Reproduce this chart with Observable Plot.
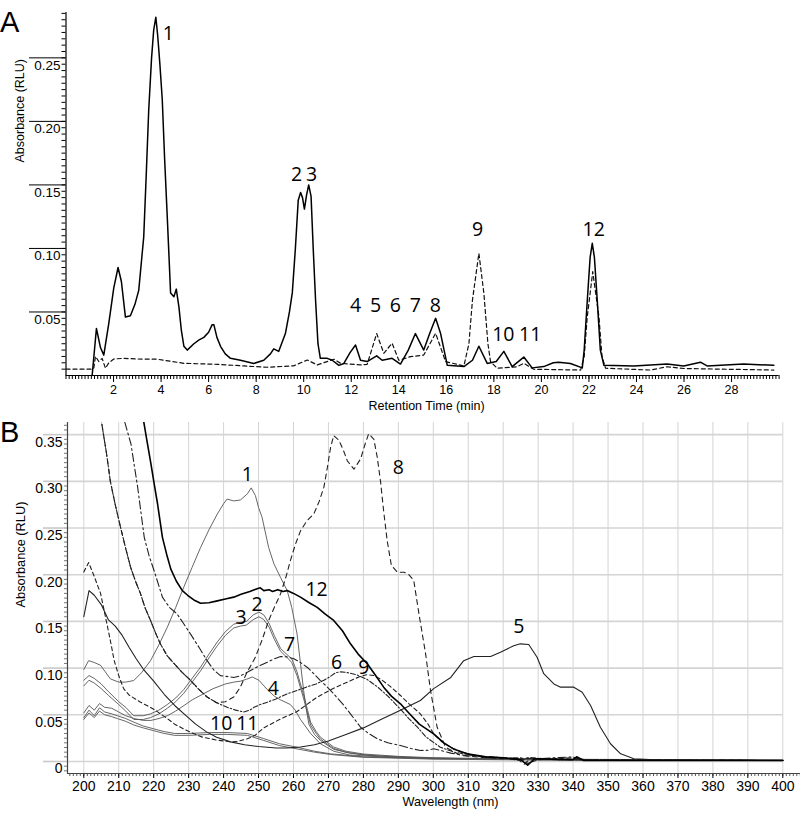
<!DOCTYPE html>
<html><head><meta charset="utf-8">
<script src="https://cdn.jsdelivr.net/npm/d3@7"></script>
<script src="https://cdn.jsdelivr.net/npm/@observablehq/plot@0.6"></script>
<style>
body{margin:0;background:#fff;}
#wrap{position:relative;width:800px;height:813px;overflow:hidden;background:#fff;}
#wrap svg{position:absolute;left:0;}
.letter{position:absolute;left:0;font-family:"Liberation Sans",Arial,sans-serif;font-size:29px;line-height:29px;color:#000;}
</style></head><body><div id="wrap"><div class="letter" style="top:8px">A</div><div class="letter" style="top:418px">B</div></div>
<script>
// ---------- Panel A: chromatogram (time min, absorbance) ----------
const chromSolid = [
[1.10,0.000],[1.28,0.037],[1.45,0.022],[1.59,0.016],[1.80,0.041],[2.01,0.069],[2.19,0.085],[2.33,0.074],[2.50,0.046],[2.71,0.047],
[2.90,0.056],[3.06,0.067],[3.20,0.095],[3.27,0.109],[3.38,0.160],[3.48,0.209],[3.60,0.250],[3.69,0.272],[3.78,0.282],[3.86,0.267],
[3.95,0.245],[4.05,0.217],[4.15,0.170],[4.26,0.125],[4.40,0.065],[4.54,0.062],[4.64,0.068],[4.75,0.054],[4.85,0.036],[4.96,0.023],
[5.10,0.020],[5.38,0.025],[5.60,0.028],[5.80,0.030],[6.00,0.034],[6.15,0.040],[6.22,0.040],[6.35,0.030],[6.50,0.023],[6.70,0.017],
[6.92,0.0135],[7.34,0.012],[7.90,0.0095],[8.32,0.012],[8.60,0.017],[8.74,0.021],[8.95,0.019],[9.23,0.033],[9.40,0.050],[9.52,0.065],
[9.65,0.100],[9.77,0.138],[9.87,0.144],[9.95,0.140],[10.03,0.131],[10.12,0.142],[10.21,0.150],[10.31,0.141],[10.40,0.100],[10.50,0.059],
[10.60,0.025],[10.70,0.0135],[10.99,0.0135],[11.20,0.012],[11.48,0.008],[11.69,0.0095],[11.95,0.018],[12.18,0.024],[12.39,0.012],[12.67,0.011],
[13.07,0.0155],[13.30,0.012],[13.72,0.0135],[14.07,0.009],[14.40,0.020],[14.70,0.033],[15.05,0.020],[15.30,0.033],[15.55,0.045],[15.76,0.033],
[16.04,0.008],[16.74,0.007],[17.10,0.012],[17.37,0.023],[17.72,0.0095],[18.10,0.011],[18.42,0.019],[18.77,0.007],[19.26,0.0145],[19.61,0.006],
[20.10,0.007],[20.50,0.010],[20.73,0.0105],[21.22,0.0095],[21.72,0.006],[21.80,0.020],[21.93,0.059],[22.05,0.093],[22.14,0.104],[22.23,0.093],
[22.35,0.059],[22.48,0.020],[22.63,0.008],[23.89,0.0075],[25.29,0.009],[25.99,0.0075],[26.69,0.0105],[26.97,0.0075],[28.51,0.009],[29.78,0.008]
];
const chromDashed = [
[0.00,0.005],[1.10,0.005],[1.17,0.006],[1.24,0.015],[1.38,0.011],[1.52,0.0135],[1.66,0.0057],[1.80,0.010],[2.01,0.013],[2.43,0.0135],
[3.00,0.013],[3.84,0.0128],[4.96,0.0096],[6.36,0.0088],[7.50,0.0075],[8.46,0.0065],[9.58,0.0076],[10.15,0.0122],[10.57,0.0083],[11.27,0.0128],
[11.55,0.0096],[12.39,0.0083],[12.67,0.0088],[13.07,0.033],[13.37,0.0175],[13.72,0.0254],[14.00,0.012],[14.49,0.0148],[15.05,0.0161],[15.55,0.0332],
[15.97,0.0109],[16.74,0.0075],[16.95,0.025],[17.10,0.0594],[17.37,0.0962],[17.58,0.0647],[17.75,0.025],[17.86,0.0109],[18.14,0.0057],[18.98,0.0069],
[19.26,0.0096],[19.68,0.0049],[21.65,0.0043],[21.80,0.015],[21.93,0.0463],[22.16,0.0817],[22.42,0.0463],[22.55,0.015],[22.70,0.0057],[24.59,0.0043],
[25.29,0.0069],[26.00,0.0055],[29.78,0.0043]
];
const peakLabelsA = [
["1",4.31,0.269],["2",9.70,0.1577],["3",10.33,0.1577],["4",12.18,0.0547],["5",13.02,0.0547],["6",13.86,0.0547],
["7",14.70,0.0547],["8",15.54,0.0547],["9",17.32,0.1146],["10",18.40,0.0319],["11",19.53,0.0319],["12",22.20,0.1146]
];
const yTicksA = [0.05,0.10,0.15,0.20,0.25];
const xTicksA = [2,4,6,8,10,12,14,16,18,20,22,24,26,28];

// ---------- Panel B: UV spectra (wavelength nm, absorbance) ----------
const spec1 = [[200,0.0985],[201.4,0.108],[203,0.106],[204.8,0.103],[207.6,0.0885],[210,0.085],[212,0.085],[214.3,0.0867],[216.5,0.095],[219.1,0.108],
[221.5,0.125],[223.9,0.1438],[226.3,0.165],[228.6,0.1866],[231,0.208],[233.4,0.229],[235.8,0.248],[238.2,0.265],[240,0.276],[241,0.281],
[242.9,0.279],[244.8,0.280],[246.8,0.2866],[247.9,0.293],[249.1,0.2848],[250,0.272],[251,0.2616],[252.9,0.229],[254.4,0.2117],[256.3,0.197],
[258.2,0.183],[259.5,0.165],[261,0.137],[262,0.105],[262.9,0.076],[263.7,0.055],[264.4,0.040],[266,0.029],[267.7,0.0225],[271.5,0.013],
[276,0.009],[283,0.006],[290.6,0.0045],[300,0.0035],[320,0.0025],[350,0.002],[400,0.0015]];
const spec2 = [[200,0.087],[201.5,0.092],[203,0.089],[205,0.083],[207,0.075],[210,0.064],[212,0.058],[214.3,0.049],[217,0.049],[219.1,0.051],
[221.5,0.055],[223.9,0.061],[226.3,0.068],[228.6,0.077],[231,0.089],[233.4,0.101],[236,0.116],[238.2,0.128],[240.5,0.139],[242.9,0.147],
[244.8,0.149],[246.5,0.150],[248.5,0.157],[250.1,0.160],[251.5,0.157],[253,0.148],[254.5,0.135],[256.3,0.121],[258,0.115],[259.5,0.110],
[261,0.096],[263,0.070],[264.9,0.042],[266.5,0.032],[267.7,0.026],[271.5,0.0155],[275,0.011],[280,0.008],[290,0.0055],[300,0.004],[330,0.0025],[400,0.0015]];
const spec3 = [[200,0.081],[201.5,0.087],[203,0.084],[205,0.078],[207,0.071],[210,0.061],[212,0.054],[214.3,0.045],[217,0.045],[219.1,0.047],
[221.5,0.051],[223.9,0.057],[226.3,0.064],[228.6,0.073],[231,0.085],[233.4,0.097],[236,0.112],[238.2,0.124],[240.5,0.135],[242.9,0.143],
[244.8,0.145],[246.5,0.146],[248.5,0.152],[250.1,0.155],[251.5,0.152],[253,0.144],[254.5,0.131],[256.3,0.118],[258,0.112],[259.5,0.106],
[261,0.092],[263,0.066],[264.9,0.039],[266.5,0.030],[267.7,0.024],[271.5,0.014],[275,0.010],[280,0.007],[290,0.005],[300,0.0035],[330,0.0022],[400,0.0012]];
const spec4 = [[200,0.052],[201.5,0.060],[203,0.055],[204.5,0.062],[206,0.058],[208,0.057],[210,0.053],[212,0.049],[214.4,0.046],[217,0.044],
[219.2,0.044],[221.5,0.046],[223.9,0.049],[226.3,0.054],[228.7,0.060],[231,0.066],[234,0.072],[237,0.078],[240.5,0.083],[242.9,0.085],
[244.8,0.086],[246.5,0.088],[248.2,0.0905],[250.1,0.087],[252.5,0.077],[254.5,0.070],[256.3,0.066],[259.1,0.061],[260.5,0.055],[262,0.045],
[264.9,0.030],[267.7,0.019],[271.5,0.011],[276,0.007],[285,0.005],[300,0.0035],[330,0.002],[400,0.0012]];
const spec5 = [[200,0.155],[201.5,0.183],[203,0.178],[205,0.168],[207,0.152],[209,0.145],[211,0.135],[213,0.122],[215,0.110],[217,0.099],
[220,0.086],[223,0.072],[226,0.060],[229,0.050],[232,0.040],[235,0.032],[238,0.026],[242,0.021],[246,0.018],[250,0.016],
[255,0.0145],[258,0.0145],[262,0.0155],[266,0.018],[270,0.022],[275,0.029],[280,0.036],[285,0.045],[290.6,0.055],[296.3,0.0653],
[300.1,0.078],[305,0.090],[308.7,0.108],[311.6,0.1124],[316.4,0.1124],[319.2,0.117],[323,0.124],[324.9,0.126],[327.3,0.1253],[329.7,0.1117],
[331.6,0.094],[334.5,0.083],[336.4,0.0796],[340.2,0.0796],[342.6,0.0742],[345,0.060],[347.8,0.0367],[350.7,0.019],[353.6,0.0082],[357.4,0.003],
[365,0.0015],[400,0.001]];
const spec6 = [[204.5,0.380],[205.3,0.358],[206.5,0.330],[207.6,0.300],[209,0.275],[210.5,0.251],[212,0.228],[213.4,0.208],[214.8,0.193],[216.2,0.180],
[217.5,0.165],[219.1,0.151],[220.5,0.138],[221.9,0.126],[223.9,0.113],[225.8,0.105],[228,0.096],[230.5,0.087],[233,0.077],[235.3,0.069],
[238,0.063],[241,0.058],[243.5,0.055],[245.8,0.053],[247.5,0.055],[248.7,0.058],[250.5,0.061],[252.5,0.0635],[255,0.067],[258.2,0.0725],
[261,0.076],[263.9,0.080],[266.5,0.083],[268.7,0.087],[270.5,0.091],[272,0.095],[273.5,0.096],[275,0.0955],[278,0.093],[281,0.088],
[284,0.080],[287,0.070],[290.6,0.056],[293,0.046],[295.4,0.037],[298,0.026],[302,0.0153],[306,0.010],[312,0.006],[320,0.004],
[325,0.001],[327,0.004],[335,0.002],[400,0.001]];
const spec7 = [[211,0.380],[211.6,0.365],[213.5,0.340],[215.4,0.294],[217.3,0.240],[218.7,0.220],[220.1,0.2045],[222.5,0.176],[224.5,0.165],[226.7,0.158],
[228.5,0.148],[230.5,0.1367],[233,0.122],[235.3,0.108],[237.2,0.098],[239.1,0.092],[242.9,0.090],[245,0.092],[247.7,0.0974],[250,0.102],
[252.5,0.1063],[254.5,0.110],[256.3,0.1124],[258.2,0.112],[260.1,0.110],[262,0.106],[263.9,0.101],[265.8,0.094],[267.7,0.0867],[269.6,0.080],
[271.5,0.0725],[274,0.062],[276.3,0.051],[279.2,0.0367],[281.5,0.030],[284,0.0243],[287,0.020],[290.6,0.0171],[293.5,0.014],[296.3,0.0118],
[298.5,0.012],[300.1,0.0136],[302,0.012],[305,0.009],[310,0.006],[320,0.004],[330,0.003],[340,0.005],[342,0.002],[400,0.001]];
const spec8 = [[204.5,0.380],[205.3,0.358],[206.5,0.330],[207.6,0.300],[209,0.275],[210.5,0.251],[212,0.228],[213.4,0.208],[214.8,0.193],[216.2,0.180],
[217.5,0.165],[219.1,0.151],[220.5,0.138],[221.9,0.126],[223.9,0.113],[225.8,0.105],[228,0.096],[230.5,0.087],[233,0.077],[235.3,0.069],
[238,0.063],[240.5,0.064],[242.9,0.069],[244.8,0.0796],[246.5,0.094],[249.1,0.1117],[251,0.130],[252.9,0.151],[254.5,0.165],[256.3,0.1795],
[257.8,0.197],[259.1,0.215],[260.5,0.232],[262,0.247],[263.9,0.258],[265.8,0.265],[267.3,0.278],[268.7,0.2937],[269.7,0.315],[270.6,0.336],
[271.5,0.349],[273,0.344],[274.3,0.333],[275.4,0.322],[277.3,0.313],[279.2,0.324],[280.5,0.340],[281.5,0.351],[283,0.345],[284,0.325],
[284.9,0.300],[285.8,0.268],[286.8,0.2366],[288,0.210],[289.7,0.2027],[291.6,0.2027],[293,0.200],[294.4,0.194],[295.9,0.158],[297.8,0.1153],
[299.2,0.076],[301.1,0.0367],[303.5,0.0153],[307.8,0.0064],[315,0.004],[324,0.003],[326,-0.003],[328,0.004],[335,0.002],[400,0.001]];
const spec9 = [[200,0.203],[201.4,0.213],[203,0.198],[204.8,0.180],[206.2,0.155],[207.6,0.1295],[208.7,0.108],[210,0.092],[211.4,0.078],[213,0.071],
[216,0.064],[220,0.056],[223.9,0.046],[226,0.040],[229,0.034],[231.6,0.0296],[234,0.026],[238,0.023],[242,0.021],[244,0.0215],
[246.8,0.0243],[249,0.028],[251.5,0.036],[256,0.045],[261,0.0535],[266.8,0.069],[271.5,0.0785],[276.3,0.0865],[279,0.091],[281.1,0.093],
[283,0.092],[285,0.088],[287.5,0.081],[290.6,0.0707],[293,0.062],[296.3,0.051],[298.5,0.040],[300.1,0.0296],[302.5,0.021],[304.9,0.0153],
[308,0.010],[314.4,0.0046],[320,0.003],[325,0.004],[327,-0.002],[330,0.002],[340,0.004],[345,0.001],[400,0.001]];
const spec10 = [[200,0.047],[201.5,0.055],[203,0.049],[204.5,0.0575],[206,0.053],[208,0.051],[209.6,0.049],[212,0.046],[214.4,0.042],[217,0.038],
[220,0.035],[223,0.032],[226,0.030],[230,0.030],[236,0.031],[241,0.031],[246.8,0.030],[251.5,0.0245],[256,0.019],[261,0.0153],
[266,0.011],[270.6,0.0082],[280,0.005],[290,0.004],[300,0.003],[330,0.002],[400,0.001]];
const spec11 = [[200,0.045],[201.5,0.052],[203,0.047],[204.5,0.054],[206,0.050],[208,0.048],[209.6,0.046],[212,0.043],[214.4,0.039],[217,0.036],
[220,0.033],[223,0.030],[226,0.028],[230,0.028],[236,0.029],[241,0.029],[246.8,0.028],[251.5,0.0225],[256,0.017],[261,0.0135],
[266,0.010],[270.6,0.0075],[280,0.0045],[290,0.0035],[300,0.0025],[330,0.0015],[400,0.001]];
const spec12 = [[216.5,0.380],[217.1,0.365],[218,0.345],[219.2,0.319],[220.2,0.296],[221.1,0.276],[222.5,0.240],[223.7,0.222],[224.9,0.206],[226.5,0.193],
[228.2,0.183],[229.7,0.178],[231.5,0.173],[233.4,0.1695],[235.8,0.170],[238.2,0.172],[240.5,0.174],[242.9,0.176],[245,0.179],[247.5,0.182],
[249.6,0.185],[250.5,0.186],[251.5,0.183],[253,0.184],[254,0.182],[255.5,0.184],[257,0.182],[258.2,0.183],[260,0.180],[262,0.176],
[264.5,0.170],[266.8,0.165],[269,0.158],[271.5,0.151],[274,0.140],[276.3,0.126],[278.5,0.115],[281.1,0.1046],[283.5,0.092],[285.8,0.0796],
[288,0.070],[290.6,0.0618],[293,0.052],[296,0.040],[300.1,0.0296],[303,0.020],[306,0.013],[309.7,0.0082],[315,0.005],[320,0.004],
[325,0.002],[327,-0.004],[329,0.003],[340,0.002],[341,0.005],[343,0.001],[400,0.001]];
const peakLabelsB = [
["1",246.8,0.307],["2",249.6,0.1678],["3",245.0,0.1539],["4",254.2,0.0778],["5",324.5,0.1438],["6",272.3,0.1053],
["7",258.9,0.125],["8",290.0,0.315],["9",280.1,0.1003],["10",239.3,0.0403],["11",246.8,0.0403],["12",266.6,0.1838]
];
const yTicksB = [0,0.05,0.10,0.15,0.20,0.25,0.30,0.35];
const xTicksB = [200,210,220,230,240,250,260,270,280,290,300,310,320,330,340,350,360,370,380,390,400];

const sans = "Liberation Sans, Arial, Helvetica, sans-serif";
const labelFont = "Open Sans, Noto Sans, sans-serif";
const X = d => d[0], Y = d => d[1];
const blank = () => "";

// ---------- Plot A ----------
const xDomA = [0, 30], yDomA = [0, 0.2857];
const chartA = Plot.plot({
  width: 800, height: 415,
  marginLeft: 65.5, marginRight: 21.4, marginTop: 12, marginBottom: 40,
  x: {domain: xDomA},
  y: {domain: yDomA},
  style: {fontFamily: sans, fontSize: "13px", background: "transparent", color: "#000"},
  marks: [
    Plot.axisY(d3.range(0.005, 0.2851, 0.005), {tickSize: 4, tickFormat: blank, label: null}),
    Plot.axisY(yTicksA, {tickSize: 36.5, tickFormat: blank, label: null}),
    Plot.axisY(yTicksA, {tickSize: 0, tickPadding: 5.5, dy: 7.5, tickFormat: d3.format(".2f"), label: null, fontSize: 13.5}),
    Plot.axisX(d3.range(0, 30.01, 2/15), {tickSize: 4, tickFormat: blank, label: null}),
    Plot.axisX(xTicksA, {tickSize: 7, tickPadding: 3, label: null, fontSize: 12.5}),
    Plot.ruleX([xDomA[0]], {strokeWidth: 1.2}),
    Plot.ruleY([yDomA[0]], {strokeWidth: 1.2}),
    Plot.line(chromDashed, {x: X, y: Y, stroke: "#111", strokeWidth: 1.2, strokeDasharray: "4,3"}),
    Plot.line(chromSolid, {x: X, y: Y, stroke: "#000", strokeWidth: 1.5}),
    Plot.text(peakLabelsA, {x: d => d[1], y: d => d[2], text: d => d[0], fontFamily: labelFont, fontSize: 19.5, fontWeight: 500, fill: "#000"}),
    Plot.text(["Absorbance (RLU)"], {frameAnchor: "left", rotate: -90, dx: -46.5, dy: -31.5, fontSize: 12.5, fill: "#000"}),
    Plot.text(["Retention Time (min)"], {frameAnchor: "bottom", dx: 4, dy: 34.5, fontSize: 12.5, fill: "#000"})
  ]
});
chartA.style.top = "0px";

// ---------- Plot B ----------
const xDomB = [195.34, 405.06], yDomB = [-0.01285, 0.3630];
const thin = {stroke: "#555", strokeWidth: 0.9};
const chartB = Plot.plot({
  width: 800, height: 398,
  marginLeft: 67, marginRight: 0, marginTop: 7, marginBottom: 40,
  x: {domain: xDomB},
  y: {domain: yDomB},
  style: {fontFamily: sans, fontSize: "14px", background: "transparent", color: "#000"},
  marks: [
    Plot.ruleX(xTicksB, {stroke: "#d4d4d4", strokeWidth: 1}),
    Plot.ruleY(yTicksB, {x1: xDomB[0], x2: 400, stroke: "#d4d4d4", strokeWidth: 1.6}),
    Plot.axisY(d3.range(-0.01, 0.3601, 0.005), {tickSize: 3, tickFormat: blank, label: null, stroke: "#777"}),
    Plot.axisY(yTicksB, {tickSize: 24, tickFormat: blank, label: null, stroke: "#c8c8c8", strokeWidth: 1.6}),
    Plot.axisY(yTicksB, {tickSize: 0, tickPadding: 5, dy: 7.5, tickFormat: d => d === 0 ? "0" : d3.format(".2f")(d), label: null, fontSize: 14}),
    Plot.axisX(d3.range(196, 406, 1), {tickSize: 3, tickFormat: blank, label: null, stroke: "#555"}),
    Plot.axisX(xTicksB, {tickSize: 5, tickPadding: 3, label: null, fontSize: 14}),
    Plot.ruleX([xDomB[0]], {stroke: "#444", strokeWidth: 1.2}),
    Plot.ruleY([yDomB[0]], {stroke: "#444", strokeWidth: 1.2}),
    Plot.line(spec1, {x: X, y: Y, ...thin, clip: true}),
    Plot.line(spec2, {x: X, y: Y, ...thin, clip: true}),
    Plot.line(spec3, {x: X, y: Y, ...thin, clip: true}),
    Plot.line(spec4, {x: X, y: Y, ...thin, clip: true}),
    Plot.line(spec10, {x: X, y: Y, ...thin, clip: true}),
    Plot.line(spec11, {x: X, y: Y, ...thin, clip: true}),
    Plot.line(spec5, {x: X, y: Y, stroke: "#222", strokeWidth: 1.1, clip: true}),
    Plot.line(spec6, {x: X, y: Y, stroke: "#222", strokeWidth: 1.1, strokeDasharray: "5,2,1.5,2", clip: true}),
    Plot.line(spec7, {x: X, y: Y, stroke: "#222", strokeWidth: 1.1, strokeDasharray: "8,3,2,3", clip: true}),
    Plot.line(spec8, {x: X, y: Y, stroke: "#222", strokeWidth: 1.1, strokeDasharray: "5,4", clip: true}),
    Plot.line(spec9, {x: X, y: Y, stroke: "#222", strokeWidth: 1.1, strokeDasharray: "4,3", clip: true}),
    Plot.line(spec12, {x: X, y: Y, stroke: "#000", strokeWidth: 1.6, clip: true}),
    Plot.text(peakLabelsB, {x: d => d[1], y: d => d[2], text: d => d[0], fontFamily: labelFont, fontSize: 19.5, fontWeight: 500, fill: "#000"}),
    Plot.text(["Absorbance (RLU)"], {frameAnchor: "left", rotate: -90, dx: -47, dy: 9.5, fontSize: 12.8, fill: "#000"}),
    Plot.text(["Wavelength (nm)"], {frameAnchor: "bottom", dx: 16.5, dy: 32, fontSize: 12.7, fill: "#000"})
  ]
});
chartB.style.top = "415px";

const wrap = document.getElementById("wrap");
wrap.appendChild(chartA);
wrap.appendChild(chartB);
</script></body></html>
